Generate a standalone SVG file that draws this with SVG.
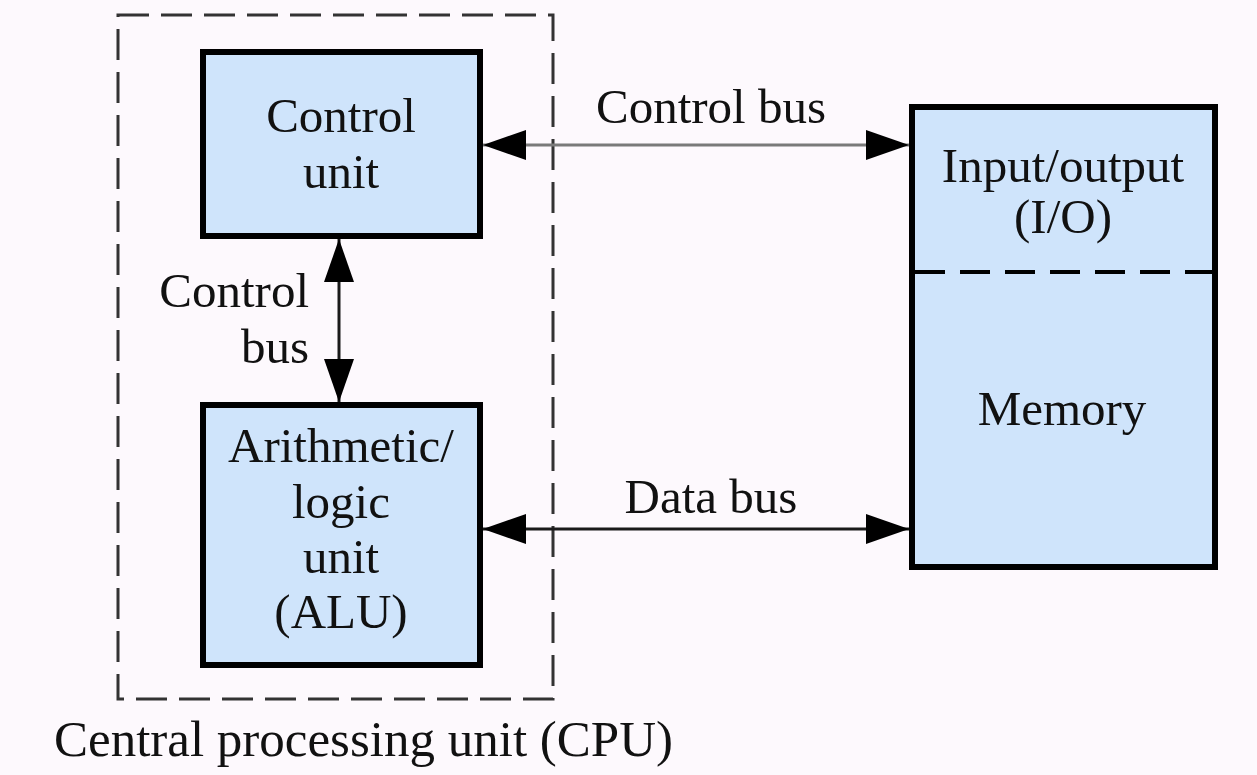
<svg xmlns="http://www.w3.org/2000/svg" width="1257" height="775" viewBox="0 0 1257 775">
  <style>
    .box { fill: #cfe4fb; stroke: #000; stroke-width: 6; }
    .lbl { font-family: "Liberation Serif", "Times New Roman", serif; font-size: 49px; fill: #111; }
    .mid { text-anchor: middle; }
    .end { text-anchor: end; }
    .bus { fill: none; stroke-width: 3; }
  </style>
  <defs>
    <marker id="head" viewBox="0 0 43 30" refX="43" refY="15" markerWidth="43" markerHeight="30" markerUnits="userSpaceOnUse" orient="auto-start-reverse">
      <path d="M0,0 L43,15 L0,30 Z" fill="#000"/>
    </marker>
  </defs>

  <rect width="1257" height="775" fill="#fdf9fd"/>

  <!-- CPU boundary -->
  <g id="cpu">
    <rect x="118" y="15" width="435" height="684" fill="none" stroke="#333" stroke-width="3" stroke-dasharray="31 12"/>
    <text class="lbl" x="54" y="756" style="font-size:51px">Central processing unit (CPU)</text>
  </g>

  <g id="control-unit">
    <rect class="box" x="203" y="52" width="277" height="184"/>
    <text class="lbl mid" x="341" y="132">Control</text>
    <text class="lbl mid" x="341" y="188">unit</text>
  </g>

  <g id="alu">
    <rect class="box" x="203" y="405" width="277" height="260"/>
    <text class="lbl mid" x="341" y="462">Arithmetic/</text>
    <text class="lbl mid" x="341" y="518">logic</text>
    <text class="lbl mid" x="341" y="573">unit</text>
    <text class="lbl mid" x="341" y="628">(ALU)</text>
  </g>

  <g id="io-memory">
    <rect class="box" x="912" y="107" width="303" height="460"/>
    <line x1="915" y1="272" x2="1212" y2="272" stroke="#000" stroke-width="4" stroke-dasharray="30 15"/>
    <text class="lbl mid" x="1063" y="182">Input/output</text>
    <text class="lbl mid" x="1063" y="233">(I/O)</text>
    <text class="lbl mid" x="1062" y="425">Memory</text>
  </g>

  <!-- buses -->
  <g id="connectors">
    <line class="bus" x1="483" y1="145" x2="909" y2="145" stroke="#7a7a7a" marker-start="url(#head)" marker-end="url(#head)"/>
    <line class="bus" x1="483" y1="529" x2="909" y2="529" stroke="#1a1a1a" marker-start="url(#head)" marker-end="url(#head)"/>
    <line class="bus" x1="339" y1="239" x2="339" y2="402" stroke="#1a1a1a" marker-start="url(#head)" marker-end="url(#head)"/>
    <text class="lbl mid" x="711" y="123">Control bus</text>
    <text class="lbl mid" x="711" y="513">Data bus</text>
    <text class="lbl end" x="309" y="307">Control</text>
    <text class="lbl end" x="309" y="363">bus</text>
  </g>
</svg>
